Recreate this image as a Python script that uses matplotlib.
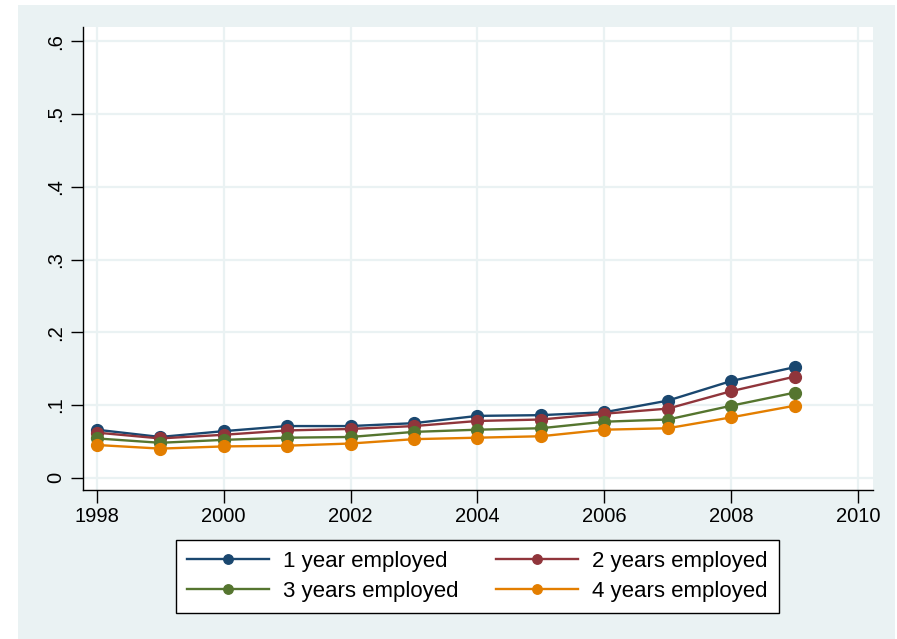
import matplotlib
matplotlib.use("Agg")
import matplotlib.pyplot as plt
from matplotlib.patches import Rectangle

plt.rcParams['font.family'] = ['Liberation Sans', 'DejaVu Sans']

# données
years = [1998, 1999, 2000, 2001, 2002, 2003, 2004, 2005, 2006, 2007, 2008, 2009]
emp1 = [0.066, 0.056, 0.064, 0.071, 0.071, 0.075, 0.085, 0.086, 0.090, 0.106, 0.133, 0.152]
emp2 = [0.062, 0.054, 0.059, 0.065, 0.067, 0.071, 0.078, 0.080, 0.088, 0.095, 0.119, 0.139]
emp3 = [0.054, 0.048, 0.052, 0.055, 0.056, 0.063, 0.066, 0.068, 0.077, 0.080, 0.099, 0.117]
emp4 = [0.045, 0.040, 0.043, 0.044, 0.047, 0.053, 0.055, 0.057, 0.066, 0.068, 0.083, 0.099]
labels = ['1 year employed', '2 years employed', '3 years employed', '4 years employed']
colors = ['#1A476F', '#90353B', '#55752F', '#E37E00']

xticks = [1998, 2000, 2002, 2004, 2006, 2008, 2010]
yticks = [0, 0.1, 0.2, 0.3, 0.4, 0.5, 0.6]
ytick_labels = ['0', '.1', '.2', '.3', '.4', '.5', '.6']

bg = '#EAF2F3'

fig = plt.figure(figsize=(8.97, 6.39), dpi=100)
fig.patch.set_facecolor('white')
fig.patches.append(Rectangle((18 / 897, 0), 877 / 897, 634 / 639, transform=fig.transFigure,
                             facecolor=bg, edgecolor='none', zorder=-10))

ax = fig.add_axes([0.0925, 0.2332, 0.8804, 0.7245])
ax.set_facecolor('white')

series = [emp1, emp2, emp3, emp4]
handles = []
for vals, lab, col in zip(series, labels, colors):
    h, = ax.plot(years, vals, color=col, lw=1.7, marker='o', markersize=8.5, label=lab, zorder=3)
    handles.append(h)

ax.set_xlim(1997.784, 2010.227)
ax.set_ylim(-0.0169, 0.6197)
ax.set_xticks(xticks)
ax.set_yticks(yticks)
ax.set_yticklabels(ytick_labels, rotation=90, va='center')
ax.tick_params(axis='both', direction='out', length=9, width=1, labelsize=14.5, color='black')
ax.tick_params(axis='x', pad=3)
ax.tick_params(axis='y', pad=4)

ax.grid(True, color=bg, lw=1.6, zorder=0)
ax.set_axisbelow(True)
for s in ['top', 'right']:
    ax.spines[s].set_visible(False)
for s in ['left', 'bottom']:
    ax.spines[s].set_color('black')
    ax.spines[s].set_linewidth(1)

# légende : remplissage ligne par ligne (1,2 / 3,4)
order = [0, 2, 1, 3]
leg = ax.legend([handles[i] for i in order], [labels[i] for i in order],
                ncol=2, loc='center', bbox_to_anchor=(0.5321, 0.0983), bbox_transform=fig.transFigure,
                fontsize=16, frameon=True, fancybox=False, markerscale=0.8,
                handlelength=3.72, handletextpad=0.63, columnspacing=1.65,
                borderpad=0.5, labelspacing=0.4)
leg.get_frame().set_edgecolor('black')
leg.get_frame().set_linewidth(1)
leg.get_frame().set_facecolor('white')
leg.get_frame().set_alpha(1)

plt.savefig('out.png', dpi=100)
plt.close()
